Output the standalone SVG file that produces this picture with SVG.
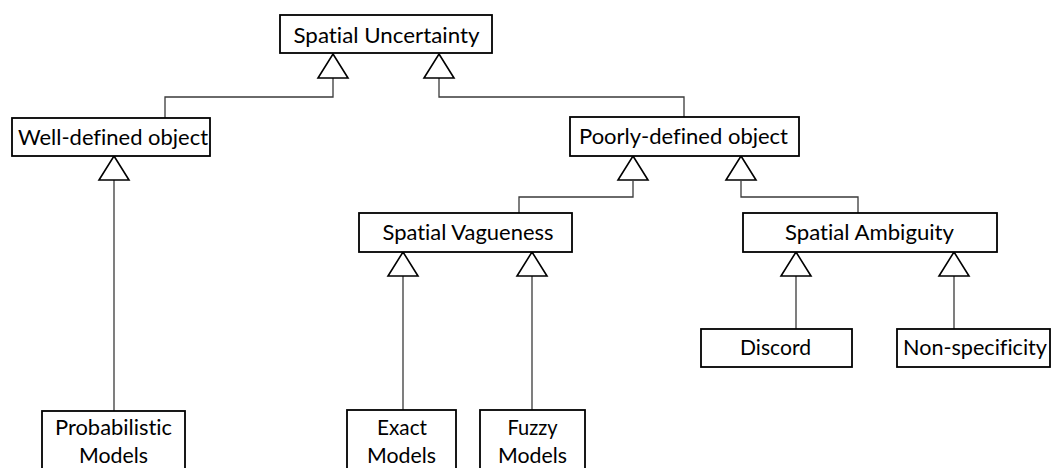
<svg xmlns="http://www.w3.org/2000/svg" width="1055" height="468" viewBox="0 0 1055 468">
<style>
.box{fill:#fff;stroke:#000;stroke-width:1.8}
.tri{fill:#fff;stroke:#000;stroke-width:1.6}
.ln{fill:none;stroke:#3a3a3a;stroke-width:1.3}
text{font-family:Lato,"Open Sans",sans-serif;font-size:22px;fill:#000;text-anchor:middle;font-variant-ligatures:none}
</style>
<defs>
<polygon id="gen" class="tri" points="0,0 15,24 -15,24"/>
</defs>
<g id="connectors">
<polyline class="ln" points="333,78 333,97 165,97 165,118"/>
<polyline class="ln" points="439,78 439,97 684,97 684,117"/>
<line class="ln" x1="114" y1="180" x2="114" y2="411"/>
<polyline class="ln" points="633,181 633,197 519,197 519,213"/>
<polyline class="ln" points="741,181 741,197 858,197 858,213"/>
<line class="ln" x1="403" y1="276" x2="403" y2="410"/>
<line class="ln" x1="532" y1="276" x2="532" y2="410"/>
<line class="ln" x1="796" y1="276" x2="796" y2="329"/>
<line class="ln" x1="954" y1="276" x2="954" y2="329"/>
<use href="#gen" x="333" y="54"/>
<use href="#gen" x="439" y="54"/>
<use href="#gen" x="114" y="156"/>
<use href="#gen" x="633" y="156"/>
<use href="#gen" x="741" y="156"/>
<use href="#gen" x="403" y="252"/>
<use href="#gen" x="532" y="252"/>
<use href="#gen" x="796" y="252"/>
<use href="#gen" x="954" y="252"/>
</g>
<g id="spatial-uncertainty">
<rect class="box" x="280" y="15" width="212" height="38"/>
<text x="386.5" y="43" textLength="186" lengthAdjust="spacingAndGlyphs">Spatial Uncertainty</text>
</g>
<g id="well-defined">
<rect class="box" x="12" y="118" width="198" height="38"/>
<text x="113" y="145" textLength="190" lengthAdjust="spacingAndGlyphs">Well-defined object</text>
</g>
<g id="poorly-defined">
<rect class="box" x="570" y="117" width="229" height="39"/>
<text x="683.5" y="144" textLength="209" lengthAdjust="spacingAndGlyphs">Poorly-defined object</text>
</g>
<g id="spatial-vagueness">
<rect class="box" x="359" y="213" width="213" height="39"/>
<text x="468" y="240" textLength="171" lengthAdjust="spacingAndGlyphs">Spatial Vagueness</text>
</g>
<g id="spatial-ambiguity">
<rect class="box" x="743" y="213" width="254" height="39"/>
<text x="869.5" y="240" textLength="169" lengthAdjust="spacingAndGlyphs">Spatial Ambiguity</text>
</g>
<g id="discord">
<rect class="box" x="701" y="329" width="151" height="38"/>
<text x="775.5" y="355" textLength="71" lengthAdjust="spacingAndGlyphs">Discord</text>
</g>
<g id="non-specificity">
<rect class="box" x="897" y="329" width="153" height="38"/>
<text x="975" y="355" textLength="144" lengthAdjust="spacingAndGlyphs">Non-specificity</text>
</g>
<g id="probabilistic-models">
<rect class="box" x="42" y="411" width="143" height="70"/>
<text x="113.5" y="435" textLength="117" lengthAdjust="spacingAndGlyphs">Probabilistic</text>
<text x="113.5" y="463" textLength="69" lengthAdjust="spacingAndGlyphs">Models</text>
</g>
<g id="exact-models">
<rect class="box" x="347" y="410" width="109" height="70"/>
<text x="402" y="435" textLength="50" lengthAdjust="spacingAndGlyphs">Exact</text>
<text x="401.5" y="463" textLength="69" lengthAdjust="spacingAndGlyphs">Models</text>
</g>
<g id="fuzzy-models">
<rect class="box" x="480" y="410" width="105" height="70"/>
<text x="532.5" y="435" textLength="50" lengthAdjust="spacingAndGlyphs">Fuzzy</text>
<text x="532.5" y="463" textLength="69" lengthAdjust="spacingAndGlyphs">Models</text>
</g>
</svg>
